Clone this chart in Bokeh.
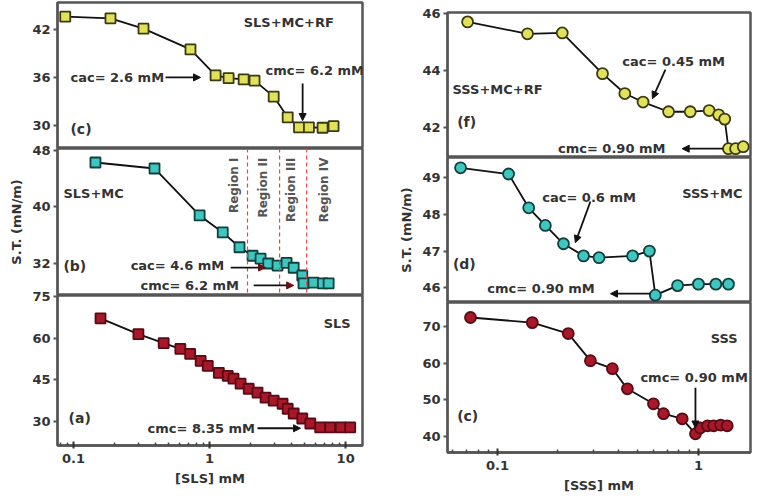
from bokeh.plotting import figure
from bokeh.layouts import row, column
from bokeh.models import (FixedTicker, NumeralTickFormatter, Label, Arrow, NormalHead,
                          Span, ColumnDataSource)
from bokeh.embed import file_html
from bokeh.resources import INLINE
import math

# ---------------- data ----------------
# SLS + MC + RF (panel c, left top)
sls_mc_rf_x = [0.087, 0.187, 0.327, 0.724, 1.107, 1.38, 1.78, 2.14, 2.96, 3.75, 4.54, 5.37, 6.77, 8.15]
sls_mc_rf_y = [43.6, 43.4, 42.1, 39.5, 36.25, 35.9, 35.75, 35.6, 33.6, 31.0, 29.75, 29.75, 29.7, 29.9]

# SLS + MC (panel b, left middle)
sls_mc_x = [0.145, 0.394, 0.845, 1.25, 1.66, 2.07, 2.37, 2.7, 3.16, 3.68, 4.15, 4.8, 4.9, 5.8, 6.8, 7.5]
sls_mc_y = [46.3, 45.45, 38.8, 36.4, 34.3, 33.1, 32.7, 32.0, 31.7, 32.1, 31.4, 30.3, 29.2, 29.3, 29.2, 29.2]

# SLS (panel a, left bottom)
sls_x = [0.158, 0.30, 0.46, 0.61, 0.72, 0.86, 0.97, 1.17, 1.36, 1.5, 1.69, 1.94, 2.25, 2.58,
         2.96, 3.44, 3.75, 4.15, 4.8, 5.5, 6.5, 7.7, 9.2, 10.8]
sls_y = [67.1, 61.4, 58.2, 56.1, 54.3, 51.8, 50.0, 47.5, 46.4, 45.4, 43.6, 41.8, 40.4, 38.6,
         37.5, 36.4, 34.6, 32.9, 31.1, 29.3, 27.9, 27.9, 27.9, 27.9]

# SSS + MC + RF (panel f, right top)
sss_mc_rf_x = [0.071, 0.141, 0.21, 0.333, 0.43, 0.53, 0.71, 0.91, 1.13, 1.26, 1.35, 1.41, 1.53, 1.67]
sss_mc_rf_y = [45.72, 45.3, 45.33, 43.9, 43.2, 42.9, 42.56, 42.56, 42.6, 42.45, 42.3, 41.26, 41.26, 41.33]

# SSS + MC (panel d, right middle)
sss_mc_x = [0.0655, 0.1135, 0.143, 0.173, 0.213, 0.268, 0.32, 0.47, 0.57, 0.61, 0.787, 1.0, 1.22, 1.41]
sss_mc_y = [49.27, 49.1, 48.18, 47.7, 47.2, 46.87, 46.82, 46.87, 47.0, 45.8, 46.06, 46.1, 46.1, 46.1]

# SSS (panel c, right bottom)
sss_x = [0.0734, 0.149, 0.225, 0.29, 0.373, 0.443, 0.597, 0.67, 0.83, 0.966, 1.02, 1.11, 1.19, 1.29, 1.39]
sss_y = [72.5, 71.1, 68.1, 60.7, 58.5, 53.0, 48.9, 46.2, 44.8, 40.7, 42.3, 42.9, 42.9, 43.1, 42.9]

# tick labels / regions
left_xticks = [0.1, 1, 10]
right_xticks = [0.1, 1]
region_lines = [1.9, 3.27, 5.17]
region_names = ["Region I", "Region II", "Region III", "Region IV"]

FONT = "DejaVu Sans"
TXT = "#333333"
FRAME = "#555555"

left_minor = [0.08, 0.09] + [i / 10 for i in range(2, 10)] + list(range(2, 10))
right_minor = [0.06, 0.07, 0.08, 0.09] + [i / 10 for i in range(2, 10)]


def make_fig(xr, yr, yticks, fw, fh, mbl, mbr, mbt, mbb, xticks=None, minor=None,
             show_x=False, xlabel=None, ylabel=None, overlap=0):
    kw = {}
    if overlap:
        kw["margin"] = (-overlap, 0, 0, 0)
    p = figure(x_axis_type="log", x_range=xr, y_range=yr, frame_width=fw, frame_height=fh,
               min_border_left=mbl, min_border_right=mbr, min_border_top=mbt + overlap,
               min_border_bottom=mbb, output_backend="svg", toolbar_location=None, **kw)
    p.xgrid.visible = False
    p.ygrid.visible = False
    p.outline_line_color = FRAME
    p.outline_line_width = 2.5
    p.background_fill_color = "white"
    p.border_fill_color = "white"
    if overlap:
        p.border_fill_alpha = 0
    p.yaxis.ticker = FixedTicker(ticks=yticks)
    p.yaxis.axis_line_color = FRAME
    p.yaxis.axis_line_width = 2
    p.yaxis.major_tick_line_color = FRAME
    p.yaxis.major_tick_line_width = 2
    p.yaxis.major_tick_in = 0
    p.yaxis.major_tick_out = 4
    p.yaxis.minor_tick_line_color = None
    p.yaxis.major_label_text_font = FONT
    p.yaxis.major_label_text_font_style = "bold"
    p.yaxis.major_label_text_font_size = "13px"
    p.yaxis.major_label_text_color = TXT
    p.yaxis.major_label_standoff = 3
    if ylabel:
        p.yaxis.axis_label = ylabel
        p.yaxis.axis_label_text_font = FONT
        p.yaxis.axis_label_text_font_style = "bold"
        p.yaxis.axis_label_text_font_size = "13px"
        p.yaxis.axis_label_text_color = TXT
        p.yaxis.axis_label_standoff = 5
    if show_x:
        p.xaxis.ticker = FixedTicker(ticks=xticks, minor_ticks=minor)
        p.xaxis.formatter = NumeralTickFormatter(format="0.[0]")
        p.xaxis.axis_line_color = FRAME
        p.xaxis.axis_line_width = 2.5
        p.xaxis.major_tick_line_color = "#333333"
        p.xaxis.major_tick_line_width = 2
        p.xaxis.major_tick_in = 4
        p.xaxis.major_tick_out = 3
        p.xaxis.minor_tick_line_color = "#444444"
        p.xaxis.minor_tick_line_width = 1.5
        p.xaxis.minor_tick_in = 3
        p.xaxis.minor_tick_out = 0
        p.xaxis.major_label_text_font = FONT
        p.xaxis.major_label_text_font_style = "bold"
        p.xaxis.major_label_text_font_size = "13px"
        p.xaxis.major_label_text_color = TXT
        p.xaxis.major_label_standoff = 5
        p.xaxis.axis_label = xlabel
        p.xaxis.axis_label_text_font = FONT
        p.xaxis.axis_label_text_font_style = "bold"
        p.xaxis.axis_label_text_font_size = "13px"
        p.xaxis.axis_label_text_color = TXT
        p.xaxis.axis_label_standoff = 5
    else:
        p.xaxis.visible = False
    return p


def series(p, xs, ys, marker, fill, edge, size=10):
    src = ColumnDataSource(dict(x=xs, y=ys))
    p.line("x", "y", source=src, line_color="#111111", line_width=1.8)
    p.scatter("x", "y", source=src, marker=marker, size=size, fill_color=fill,
              line_color=edge, line_width=1.8)


def label(p, x, y, text, size="13px", align="left", color=TXT, angle=0.0, style="bold"):
    p.add_layout(Label(x=x, y=y, text=text, text_font=FONT, text_font_size=size,
                       text_font_style=style, text_color=color, text_align=align,
                       text_baseline="middle", angle=angle))


def arrow(p, x0, y0, x1, y1, color="#111111"):
    p.add_layout(Arrow(end=NormalHead(size=7, fill_color=color, line_color=color),
                       x_start=x0, y_start=y0, x_end=x1, y_end=y1,
                       line_color="#111111", line_width=1.8))


LXR = (0.0763, 13.3)
RXR = (0.0564, 1.815)
YEL, YEL_E = "#e2e25a", "#3a3a10"
TEAL, TEAL_E = "#3ec6c0", "#10403e"
RED, RED_E = "#a8182a", "#5a0a12"

# ---------------- left column ----------------
pc = make_fig(LXR, (27.1, 45.375), [30, 36, 42], 305, 146, 57, 10, 2, 0)
series(pc, sls_mc_rf_x, sls_mc_rf_y, "square", YEL, YEL_E)
label(pc, 1.78, 42.9, "SLS+MC+RF")
label(pc, 0.095, 36.0, "cac= 2.6 mM")
arrow(pc, 0.475, 36.0, 0.858, 36.0)
label(pc, 2.58, 36.9, "cmc= 6.2 mM")
arrow(pc, 4.83, 35.25, 4.83, 30.6)
label(pc, 0.095, 29.6, "(c)", size="14px")

pb = make_fig(LXR, (27.47, 48.28), [32, 40, 48], 305, 147, 57, 10, 0, 0,
              ylabel="S.T. (mN/m)", overlap=9)
for xv in region_lines:
    pb.add_layout(Span(location=xv, dimension="height", line_color="#e04848",
                       line_dash="4 3", line_width=1.2))
series(pb, sls_mc_x, sls_mc_y, "square", TEAL, TEAL_E)
label(pb, 0.0843, 41.9, "SLS+MC")
label(pb, 0.0843, 31.7, "(b)", size="14px")
label(pb, 0.263, 31.7, "cac= 4.6 mM")
arrow(pb, 1.43, 31.43, 2.58, 31.43, color="#6a1010")
label(pb, 0.311, 28.9, "cmc= 6.2 mM")
arrow(pb, 2.11, 28.9, 4.15, 28.9, color="#6a1010")
for xv, name in zip([1.5, 2.49, 4.0, 6.89], region_names):
    label(pb, xv, 47.0, name, size="12px", align="right", color="#555555",
          angle=math.pi / 2, style="bold")

pa = make_fig(LXR, (21.4, 75.3), [30, 45, 60, 75], 305, 150, 57, 10, 0, 48,
              xticks=left_xticks, minor=left_minor, show_x=True, xlabel="[SLS] mM", overlap=9)
series(pa, sls_x, sls_y, "square", RED, RED_E)
label(pa, 6.89, 65.4, "SLS")
label(pa, 0.092, 31.4, "(a)", size="14px")
label(pa, 0.35, 27.5, "cmc= 8.35 mM")
arrow(pa, 2.25, 27.6, 4.66, 27.6)

# ---------------- right column ----------------
pf = make_fig(RXR, (40.95, 46.05), [42, 44, 46], 303, 145, 75, 4, 12, 0)
series(pf, sss_mc_rf_x, sss_mc_rf_y, "circle", YEL, YEL_E, size=11)
label(pf, 0.0597, 43.33, "SSS+MC+RF")
label(pf, 0.063, 42.21, "(f)", size="14px")
label(pf, 0.418, 44.32, "cac= 0.45 mM")
arrow(pf, 0.685, 44.04, 0.59, 43.02)
label(pf, 0.2, 41.26, "cmc= 0.90 mM")
arrow(pf, 1.33, 41.26, 0.83, 41.26)

pd = make_fig(RXR, (45.6, 49.55), [46, 47, 48, 49], 303, 145, 75, 4, 0, 0, ylabel="S.T. (mN/m)")
series(pd, sss_mc_x, sss_mc_y, "circle", TEAL, TEAL_E, size=11)
label(pd, 0.83, 48.56, "SSS+MC")
label(pd, 0.167, 48.46, "cac= 0.6 mM")
arrow(pd, 0.29, 48.35, 0.244, 47.23)
label(pd, 0.06, 46.66, "(d)", size="14px")
label(pd, 0.089, 45.98, "cmc= 0.90 mM")
arrow(pd, 0.577, 45.84, 0.365, 45.84)

pe = make_fig(RXR, (35.6, 76.6), [40, 50, 60, 70], 303, 150, 75, 4, 0, 40,
              xticks=right_xticks, minor=right_minor, show_x=True, xlabel="[SSS] mM")
series(pe, sss_x, sss_y, "circle", RED, RED_E, size=11)
label(pe, 1.15, 66.7, "SSS")
label(pe, 0.514, 56.0, "cmc= 0.90 mM")
arrow(pe, 0.966, 53.3, 0.966, 42.3)
label(pe, 0.063, 45.6, "(c)", size="14px")

layout = row(column(pc, pb, pa, spacing=0), column(pf, pd, pe, spacing=0), spacing=0)
open("out.html", "w").write(file_html(layout, INLINE))
